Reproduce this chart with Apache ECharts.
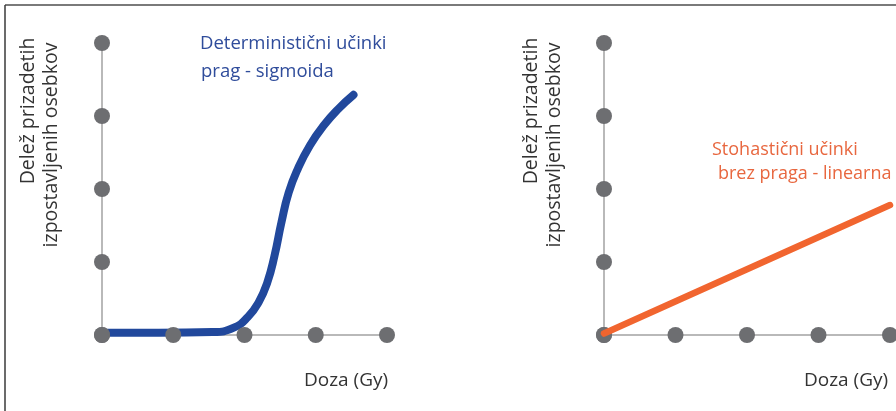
<!DOCTYPE html>
<html>
<head>
<meta charset="utf-8">
<script src="https://cdn.jsdelivr.net/npm/echarts@6/dist/echarts.min.js"></script>
<style>
  html, body { margin: 0; padding: 0; background: #fff; }
  #chart { width: 896px; height: 411px; }
</style>
</head>
<body>
<div id="chart"></div>
<script>
// tick positions (dots on the axes)
var tickValues = [0, 1, 2, 3, 4];
// deterministic effects - threshold, sigmoid (dose, share)
var sigmoidDose  = [0, 0.8, 1.55, 1.85, 2.05, 2.2, 2.32, 2.42, 2.52, 2.62, 2.75, 2.92, 3.12, 3.32, 3.53];
var sigmoidShare = [0.03, 0.03, 0.04, 0.1, 0.25, 0.45, 0.72, 1.08, 1.55, 1.95, 2.28, 2.6, 2.88, 3.1, 3.29];
// stochastic effects - no threshold, linear
var linearDose  = [0, 4];
var linearShare = [0.02, 1.78];

var font = 'Open Sans';
var gray = '#6d6e71';

function pairs(xs, ys) {
  return xs.map(function (x, i) { return [x, ys[i]]; });
}
function axisDots(axis) {
  // dots sitting on the x or y axis
  return tickValues.map(function (v) { return axis === 'x' ? [v, 0] : [0, v]; });
}
function makeAxis(i) {
  return {
    type: 'value', gridIndex: i, min: 0, max: 4, interval: 1,
    axisLine: { show: true, lineStyle: { color: '#b9b9b9', width: 2 } },
    axisTick: { show: false }, axisLabel: { show: false }, splitLine: { show: false }
  };
}
function dots(i, z) {
  return {
    type: 'scatter', xAxisIndex: i, yAxisIndex: i, symbolSize: 16, clip: false, z: z,
    itemStyle: { color: gray, opacity: 1 }, silent: true,
    data: axisDots('x').concat(axisDots('y'))
  };
}
function label(x, y, text, color, size, rot) {
  return {
    type: 'text', x: x, y: y, rotation: rot || 0,
    style: {
      text: text, fill: color, font: size + 'px "' + font + '"',
      textAlign: rot ? 'center' : 'left', textVerticalAlign: 'middle'
    }
  };
}

var chart = echarts.init(document.getElementById('chart'));
chart.setOption({
  animation: false,
  grid: [
    { left: 102, top: 43, width: 285, height: 292 },
    { left: 604, top: 43, width: 286, height: 292 }
  ],
  xAxis: [makeAxis(0), makeAxis(1)],
  yAxis: [makeAxis(0), makeAxis(1)],
  series: [
    {
      type: 'line', xAxisIndex: 0, yAxisIndex: 0, smooth: 0.5,
      showSymbol: false, z: 2,
      lineStyle: { color: '#21489c', width: 8, cap: 'round', join: 'round' },
      data: pairs(sigmoidDose, sigmoidShare)
    },
    dots(0, 3),
    dots(1, 2),
    {
      type: 'line', xAxisIndex: 1, yAxisIndex: 1, showSymbol: false, z: 3,
      lineStyle: { color: '#f1652f', width: 6.5, cap: 'round' },
      data: pairs(linearDose, linearShare)
    }
  ],
  graphic: [
    { type: 'line', shape: { x1: 5, y1: 5, x2: 896, y2: 5 }, style: { stroke: '#7a7a7a', lineWidth: 2 } },
    { type: 'line', shape: { x1: 5, y1: 5, x2: 5, y2: 411 }, style: { stroke: '#3a3a3a', lineWidth: 1.5 } },
    label(200, 44, 'Deterministični učinki', '#2f4c9b', 18.5),
    label(201, 72, 'prag - sigmoida', '#2f4c9b', 18.5),
    label(712, 150, 'Stohastični učinki', '#e8673f', 18),
    label(718, 174, 'brez praga - linearna', '#e8673f', 18),
    label(28, 111, 'Delež prizadetih', '#333', 19.5, Math.PI / 2),
    label(51, 145, 'izpostavljenih osebkov', '#333', 19.5, Math.PI / 2),
    label(531, 111, 'Delež prizadetih', '#333', 19.5, Math.PI / 2),
    label(554, 145, 'izpostavljenih osebkov', '#333', 19.5, Math.PI / 2),
    label(304, 381, 'Doza (Gy)', '#333', 19),
    label(804, 381, 'Doza (Gy)', '#333', 19)
  ]
});
</script>
</body>
</html>
